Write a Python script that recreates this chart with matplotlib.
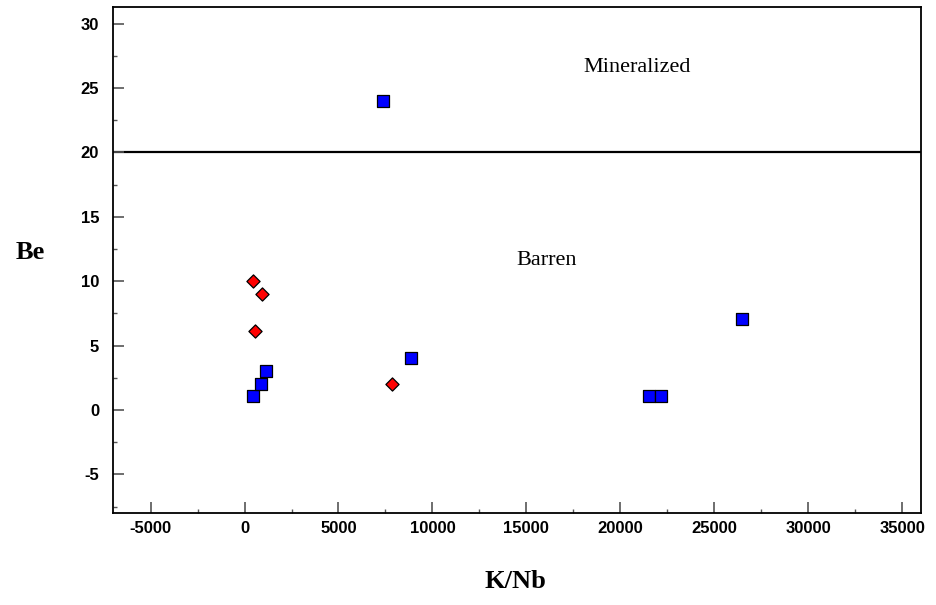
import numpy as np
import matplotlib.pyplot as plt
from matplotlib.ticker import MultipleLocator

plt.rcParams['axes.unicode_minus'] = False

# data
knb_sq = [7350, 450, 900, 1150, 8850, 21550, 22150, 26500]
be_sq = [24, 1.1, 2, 3, 4, 1.1, 1.1, 7.1]
knb_dia = [450, 950, 550, 7850]
be_dia = [10, 9, 6.1, 2]
threshold = 20

fig = plt.figure(figsize=(9.37, 6.05), dpi=100)
ax = fig.add_axes([113/937, 1 - 513/605, (921 - 113)/937, (513 - 7)/605])

ax.axhline(threshold, color='black', lw=1.6, zorder=1)
ax.scatter(knb_sq, be_sq, marker='s', s=85, c='#0000ff', edgecolors='black',
           linewidths=0.9, zorder=3)
ax.scatter(knb_dia, be_dia, marker='D', s=45, c='#ff0000', edgecolors='black',
           linewidths=0.9, zorder=3)

ax.set_xlim(-7000, 36000)
ax.set_ylim(-8, 31.3)
ax.xaxis.set_major_locator(MultipleLocator(5000))
ax.xaxis.set_minor_locator(MultipleLocator(2500))
ax.yaxis.set_major_locator(MultipleLocator(5))
ax.yaxis.set_minor_locator(MultipleLocator(2.5))
ax.tick_params(which='both', direction='in', top=False, right=False,
               color='#555555')
ax.tick_params(which='major', length=8, width=1.2)
ax.tick_params(which='minor', length=3, width=1)
ax.tick_params(axis='y', which='major', pad=10)
ax.tick_params(axis='x', which='major', pad=6)
for lab in ax.get_xticklabels() + ax.get_yticklabels():
    lab.set_fontfamily('Liberation Sans')
    lab.set_fontweight('bold')
    lab.set_fontsize(12)
for sp in ax.spines.values():
    sp.set_linewidth(1.3)

ax.text(20900, 26.6, 'Mineralized', ha='center', va='center',
        fontfamily='Liberation Serif', fontsize=16)
ax.text(16050, 11.6, 'Barren', ha='center', va='center',
        fontfamily='Liberation Serif', fontsize=16)

fig.text(30/937, 1 - 252/605, 'Be', ha='center', va='center',
         fontfamily='Liberation Serif', fontweight='bold', fontsize=19)
fig.text(515/937, 1 - 581/605, 'K/Nb', ha='center', va='center',
         fontfamily='Liberation Serif', fontweight='bold', fontsize=19)

fig.savefig('out.png', dpi=100)
